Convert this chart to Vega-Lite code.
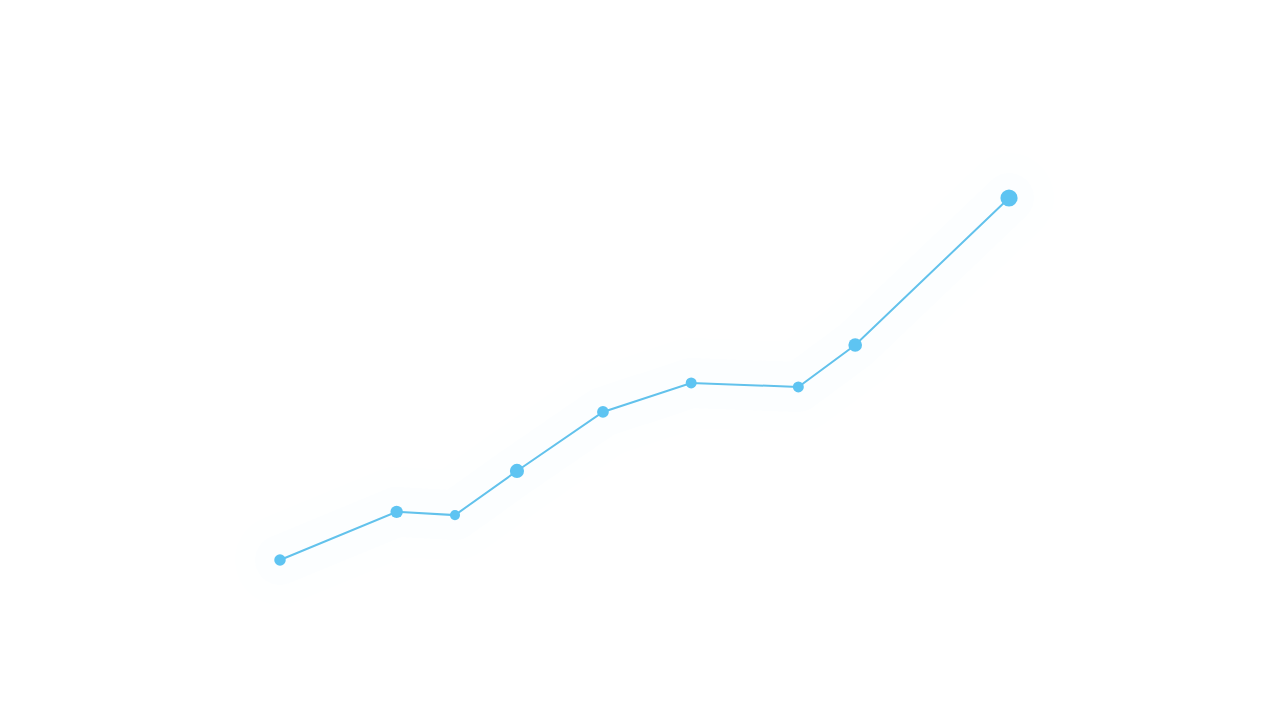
{
  "$schema": "https://vega.github.io/schema/vega-lite/v6.json",
  "width": 1280,
  "height": 720,
  "autosize": {"type": "fit", "contains": "padding"},
  "padding": 0,
  "background": "#ffffff",
  "config": {"view": {"stroke": null}},
  "data": {
    "values": [
      {"t": 0, "value": 0, "weight": 44},
      {"t": 16.0, "value": 13.3, "weight": 51},
      {"t": 24.0, "value": 12.4, "weight": 34},
      {"t": 32.5, "value": 24.6, "weight": 67},
      {"t": 44.3, "value": 40.9, "weight": 46},
      {"t": 56.4, "value": 48.9, "weight": 40},
      {"t": 71.1, "value": 47.8, "weight": 40},
      {"t": 78.9, "value": 59.4, "weight": 62},
      {"t": 100, "value": 100, "weight": 98}
    ]
  },
  "encoding": {
    "x": {
      "field": "t",
      "type": "quantitative",
      "scale": {"domain": [-38.41, 137.17], "nice": false, "zero": false},
      "axis": null
    },
    "y": {
      "field": "value",
      "type": "quantitative",
      "scale": {"domain": [-44.2, 154.7], "nice": false, "zero": false},
      "axis": null
    }
  },
  "layer": [
    {
      "mark": {"type": "line", "color": "#5ec4f0", "strokeWidth": 90, "opacity": 0.008, "strokeCap": "round", "strokeJoin": "round"}
    },
    {
      "mark": {"type": "line", "color": "#5ec4f0", "strokeWidth": 50, "opacity": 0.01, "strokeCap": "round", "strokeJoin": "round"}
    },
    {
      "mark": {"type": "line", "color": "#62c2ec", "strokeWidth": 2}
    },
    {
      "mark": {"type": "circle", "color": "#5ec4f2", "opacity": 1},
      "encoding": {
        "size": {
          "field": "weight",
          "type": "quantitative",
          "scale": {"domain": [0, 100], "range": [0, 300], "zero": true},
          "legend": null
        }
      }
    }
  ]
}
